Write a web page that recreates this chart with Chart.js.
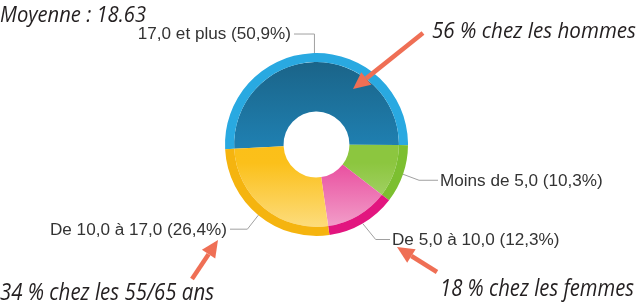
<!DOCTYPE html>
<html>
<head>
<meta charset="utf-8">
<script src="https://cdn.jsdelivr.net/npm/chart.js@4"></script>
<style>
    body { margin: 0; background: #fff; }
    canvas { display: block; }
</style>
</head>
<body>
<canvas id="chartDonut" width="640" height="302"></canvas>
<script>
    // Datos del grafico
    const categories = ["17,0 et plus", "Moins de 5,0", "De 5,0 à 10,0", "De 10,0 à 17,0"];
    const shares = [50.9, 10.3, 12.3, 26.4];
    const moyenne = "18.63";

    // Colores: borde exterior y degradado interior
    const rimColors = ["#29a9e1", "#7cbf30", "#e2157f", "#f5b40f"];
    const fillStops = [
        [[0, "#1a6184"], [0.5, "#1f7fb0"], [1, "#2799d0"]],
        [[0, "#8cc63f"], [0.6, "#8cc63f"], [1, "#b9dc8c"]],
        [[0, "#e84a9c"], [0.6, "#e94e9f"], [1, "#f3a9cf"]],
        [[0, "#fbbd12"], [0.6, "#fbc01a"], [1, "#fde08a"]],
    ];

    // Posicion de las etiquetas (codo relativo al arco, fin de la linea)
    const labelLayout = [
        { dx: 0, dy: -19, endX: 294, align: "right" },
        { dx: 16, dy: 6, endX: 438, align: "left" },
        { dx: 13, dy: 16, endX: 390, align: "left" },
        { dx: -11, dy: 14, endX: 230, align: "right" },
    ];

    function formatLabel(i) {
        return categories[i] + " (" + shares[i].toFixed(1).replace(".", ",") + "%)";
    }

    function fillGradient(context) {
        const chart = context.chart;
        const area = chart.chartArea;
        const stops = fillStops[context.dataIndex];
        if (!area) return stops[1][1];
        const g = chart.ctx.createLinearGradient(0, area.top, 0, area.bottom);
        stops.forEach(s => g.addColorStop(s[0], s[1]));
        return g;
    }

    function drawArrow(ctx, x1, y1, x2, y2) {
        const ang = Math.atan2(y2 - y1, x2 - x1);
        const headLen = 17, headW = 8;
        const bx = x2 - headLen * Math.cos(ang);
        const by = y2 - headLen * Math.sin(ang);
        ctx.strokeStyle = "#ef6f55";
        ctx.fillStyle = "#ef6f55";
        ctx.lineWidth = 4.5;
        ctx.lineCap = "butt";
        ctx.beginPath();
        ctx.moveTo(x1, y1);
        ctx.lineTo(bx, by);
        ctx.stroke();
        ctx.beginPath();
        ctx.moveTo(x2, y2);
        ctx.lineTo(bx + headW * Math.sin(ang), by - headW * Math.cos(ang));
        ctx.lineTo(bx - headW * Math.sin(ang), by + headW * Math.cos(ang));
        ctx.closePath();
        ctx.fill();
    }

    function italicText(ctx, text, x, y, width, size) {
        ctx.font = "italic " + size + "px 'Open Sans', 'Liberation Sans', sans-serif";
        ctx.fillStyle = "#231f20";
        ctx.textAlign = "left";
        ctx.textBaseline = "alphabetic";
        ctx.fillText(text, x, y, width);
    }

    // Etiquetas con lineas guia y anotaciones
    const labelsPlugin = {
        id: "labelsPlugin",
        afterDraw(chart) {
            const ctx = chart.ctx;
            const outer = chart.getDatasetMeta(0).data;
            ctx.save();
            outer.forEach((arc, i) => {
                const p = arc.getProps(["x", "y", "startAngle", "endAngle", "outerRadius"], true);
                const mid = (p.startAngle + p.endAngle) / 2;
                const ax = p.x + Math.cos(mid) * p.outerRadius;
                const ay = p.y + Math.sin(mid) * p.outerRadius;
                const lay = labelLayout[i];
                const ex = ax + lay.dx, ey = ay + lay.dy;
                ctx.strokeStyle = "#a0a0a0";
                ctx.lineWidth = 1;
                ctx.beginPath();
                ctx.moveTo(ax, ay);
                ctx.lineTo(ex, ey);
                ctx.lineTo(lay.endX, ey);
                ctx.stroke();

                const text = formatLabel(i);
                ctx.font = "16px 'Liberation Sans', Arial, sans-serif";
                ctx.fillStyle = "#333333";
                ctx.textBaseline = "middle";
                const w = ctx.measureText(text).width;
                const sx = 1.07;
                const tx = lay.align === "left" ? lay.endX + 2 : lay.endX - 3 - w * sx;
                ctx.save();
                ctx.translate(tx, ey + 1);
                ctx.scale(sx, 1);
                ctx.textAlign = "left";
                ctx.fillText(text, 0, 0);
                ctx.restore();
            });

            italicText(ctx, "Moyenne : " + moyenne, 0, 22, 146, 21);
            italicText(ctx, "56 % chez les hommes", 432, 38, 204, 22);
            italicText(ctx, "18 % chez les femmes", 440, 296, 194, 23);
            italicText(ctx, "34 % chez les 55/65 ans", 0, 300, 214, 23);

            drawArrow(ctx, 423, 33, 353, 89);
            drawArrow(ctx, 437, 272, 397, 247);
            drawArrow(ctx, 192, 279, 218, 240);
            ctx.restore();
        }
    };

    const dataDonut = {
        labels: categories,
        datasets: [{
            label: "rim",
            data: shares,
            backgroundColor: rimColors,
            borderWidth: 0,
            weight: 9,
        },
        {
            label: "fill",
            data: shares,
            backgroundColor: fillGradient,
            borderWidth: 0,
            weight: 49,
        },
        ],
    };

    const configDonut = {
        type: "doughnut",
        data: dataDonut,
        options: {
            responsive: false,
            animation: false,
            rotation: 267,
            cutout: "36%",
            hoverOffset: 0,
            layout: { padding: { left: 225, right: 232, top: 53, bottom: 66 } },
            plugins: {
                legend: { display: false },
                tooltip: { enabled: false },
            },
        },
        plugins: [labelsPlugin],
    };

    var chartDonut = new Chart(
        document.getElementById("chartDonut"),
        configDonut
    );
</script>
</body>
</html>
